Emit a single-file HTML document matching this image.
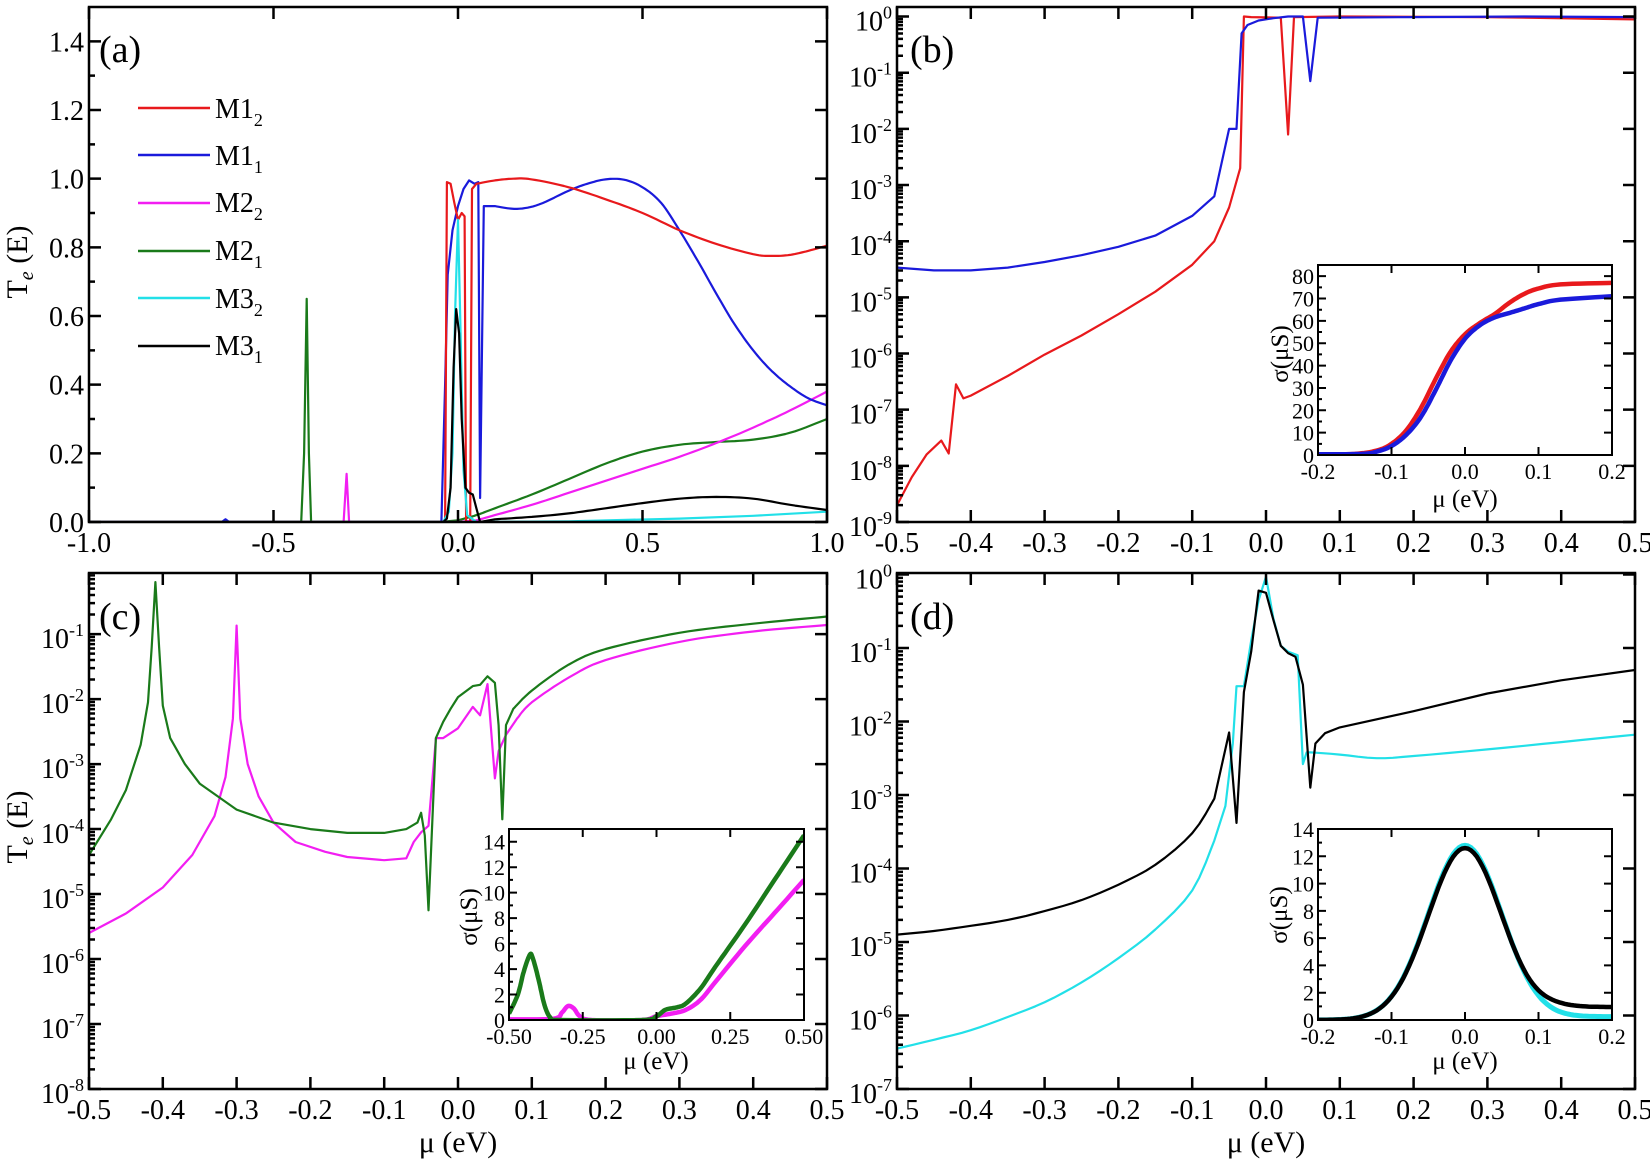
<!DOCTYPE html>
<html><head><meta charset="utf-8"><style>
html,body{margin:0;padding:0;background:#fff;}
svg{display:block;font-family:"Liberation Serif",serif;}
</style></head><body>
<svg id="s" width="1650" height="1159" viewBox="0 0 1650 1159" xmlns="http://www.w3.org/2000/svg">
<rect width="1650" height="1159" fill="#fff"/>
<g id="plots"></g>
<g font-size="28" fill="#000">
<g id="a-x" text-anchor="middle"><text>-1.0</text><text>-0.5</text><text>0.0</text><text>0.5</text><text>1.0</text></g>
<g id="a-y" text-anchor="end"><text>0.0</text><text>0.2</text><text>0.4</text><text>0.6</text><text>0.8</text><text>1.0</text><text>1.2</text><text>1.4</text></g>
<g id="b-x" text-anchor="middle"><text>-0.5</text><text>-0.4</text><text>-0.3</text><text>-0.2</text><text>-0.1</text><text>0.0</text><text>0.1</text><text>0.2</text><text>0.3</text><text>0.4</text><text>0.5</text></g>
<g id="b-y" text-anchor="end"><text>10<tspan font-size="18" dy="-12">-9</tspan></text><text>10<tspan font-size="18" dy="-12">-8</tspan></text><text>10<tspan font-size="18" dy="-12">-7</tspan></text><text>10<tspan font-size="18" dy="-12">-6</tspan></text><text>10<tspan font-size="18" dy="-12">-5</tspan></text><text>10<tspan font-size="18" dy="-12">-4</tspan></text><text>10<tspan font-size="18" dy="-12">-3</tspan></text><text>10<tspan font-size="18" dy="-12">-2</tspan></text><text>10<tspan font-size="18" dy="-12">-1</tspan></text><text>10<tspan font-size="18" dy="-12">0</tspan></text></g>
<g id="c-x" text-anchor="middle"><text>-0.5</text><text>-0.4</text><text>-0.3</text><text>-0.2</text><text>-0.1</text><text>0.0</text><text>0.1</text><text>0.2</text><text>0.3</text><text>0.4</text><text>0.5</text></g>
<g id="c-y" text-anchor="end"><text>10<tspan font-size="18" dy="-12">-8</tspan></text><text>10<tspan font-size="18" dy="-12">-7</tspan></text><text>10<tspan font-size="18" dy="-12">-6</tspan></text><text>10<tspan font-size="18" dy="-12">-5</tspan></text><text>10<tspan font-size="18" dy="-12">-4</tspan></text><text>10<tspan font-size="18" dy="-12">-3</tspan></text><text>10<tspan font-size="18" dy="-12">-2</tspan></text><text>10<tspan font-size="18" dy="-12">-1</tspan></text></g>
<g id="d-x" text-anchor="middle"><text>-0.5</text><text>-0.4</text><text>-0.3</text><text>-0.2</text><text>-0.1</text><text>0.0</text><text>0.1</text><text>0.2</text><text>0.3</text><text>0.4</text><text>0.5</text></g>
<g id="d-y" text-anchor="end"><text>10<tspan font-size="18" dy="-12">-7</tspan></text><text>10<tspan font-size="18" dy="-12">-6</tspan></text><text>10<tspan font-size="18" dy="-12">-5</tspan></text><text>10<tspan font-size="18" dy="-12">-4</tspan></text><text>10<tspan font-size="18" dy="-12">-3</tspan></text><text>10<tspan font-size="18" dy="-12">-2</tspan></text><text>10<tspan font-size="18" dy="-12">-1</tspan></text><text>10<tspan font-size="18" dy="-12">0</tspan></text></g>
</g>
<g font-size="22" fill="#000">
<g id="bi-x" text-anchor="middle"><text>-0.2</text><text>-0.1</text><text>0.0</text><text>0.1</text><text>0.2</text></g>
<g id="bi-y" text-anchor="end"><text>0</text><text>10</text><text>20</text><text>30</text><text>40</text><text>50</text><text>60</text><text>70</text><text>80</text></g>
<g id="ci-x" text-anchor="middle"><text>-0.50</text><text>-0.25</text><text>0.00</text><text>0.25</text><text>0.50</text></g>
<g id="ci-y" text-anchor="end"><text>0</text><text>2</text><text>4</text><text>6</text><text>8</text><text>10</text><text>12</text><text>14</text></g>
<g id="di-x" text-anchor="middle"><text>-0.2</text><text>-0.1</text><text>0.0</text><text>0.1</text><text>0.2</text></g>
<g id="di-y" text-anchor="end"><text>0</text><text>2</text><text>4</text><text>6</text><text>8</text><text>10</text><text>12</text><text>14</text></g>
</g>
<g font-size="38"><text x="99" y="62">(a)</text><text x="910" y="62">(b)</text><text x="99" y="629">(c)</text><text x="910" y="629">(d)</text></g>
<g font-size="28" id="legend">
<text x="215" y="118">M1<tspan font-size="18" dy="8">2</tspan></text>
<text x="215" y="165">M1<tspan font-size="18" dy="8">1</tspan></text>
<text x="215" y="212">M2<tspan font-size="18" dy="8">2</tspan></text>
<text x="215" y="260">M2<tspan font-size="18" dy="8">1</tspan></text>
<text x="215" y="308">M3<tspan font-size="18" dy="8">2</tspan></text>
<text x="215" y="355">M3<tspan font-size="18" dy="8">1</tspan></text>
</g>
<g font-size="30" text-anchor="middle">
<text transform="translate(27,262) rotate(-90)">T<tspan font-size="20" font-style="italic" dy="6">e</tspan><tspan dy="-6"> (E)</tspan></text>
<text transform="translate(27,827) rotate(-90)">T<tspan font-size="20" font-style="italic" dy="6">e</tspan><tspan dy="-6"> (E)</tspan></text>
<text x="458" y="1152">μ (eV)</text>
<text x="1266" y="1152">μ (eV)</text>
</g>
<g font-size="25" text-anchor="middle">
<text x="1465" y="507">μ (eV)</text>
<text x="656" y="1069">μ (eV)</text>
<text x="1465" y="1069">μ (eV)</text>
<text transform="translate(1288,354) rotate(-90)">σ(μS)</text>
<text transform="translate(477,917) rotate(-90)">σ(μS)</text>
<text transform="translate(1287,915) rotate(-90)">σ(μS)</text>
</g>
</svg>
<script>
const NS="http://www.w3.org/2000/svg";
const root=document.getElementById('plots');
function mk(t,a,par){const e=document.createElementNS(NS,t);for(const k in a)e.setAttribute(k,a[k]);(par||root).appendChild(e);return e;}
function range(a,b,s){const r=[];for(let v=a;v<=b+1e-9;v+=s)r.push(+v.toFixed(6));return r;}
function gauss(x,m,s){const z=(x-m)/s;return Math.exp(-z*z/2);}
function sig(x,m,w){return 1/(1+Math.exp(-(x-m)/w));}
function fn(f,a,b,n){const r=[];for(let i=0;i<=n;i++){const x=a+(b-a)*i/n;r.push([x,f(x)]);}return r;}
function cr(p,n){n=n||8;const r=[];for(let i=0;i<p.length-1;i++){const p0=p[i-1]||p[i],p1=p[i],p2=p[i+1],p3=p[i+2]||p[i+1];for(let k=0;k<n;k++){const t=k/n,t2=t*t,t3=t2*t;const f=(a,b,c,d)=>0.5*((2*b)+(-a+c)*t+(2*a-5*b+4*c-d)*t2+(-a+3*b-3*c+d)*t3);r.push([f(p0[0],p1[0],p2[0],p3[0]),f(p0[1],p1[1],p2[1],p3[1])]);}}r.push(p[p.length-1]);return r;}

const red='#e8191c',blue='#1a1adb',mag='#f21ef2',grn='#1a7a1a',cya='#22e0e8',blk='#000';

const P={
a:{x0:89,x1:827,y0:7,y1:522,xmin:-1,xmax:1,ymin:0,ymax:1.5,xt:[-1,-0.5,0,0.5,1],yt:range(0,1.4,0.2),ymn:range(0.1,1.5,0.2),tl:12},
b:{x0:897,x1:1635,y0:7,y1:522,xmin:-0.5,xmax:0.5,ymin:-9,ymax:0.17,xt:range(-0.5,0.5,0.1),yt:range(-9,0,1),log:true,tl:12},
c:{x0:89,x1:827,y0:573,y1:1089,xmin:-0.5,xmax:0.5,ymin:-8,ymax:-0.06,xt:range(-0.5,0.5,0.1),yt:range(-8,-1,1),log:true,tl:12},
d:{x0:897,x1:1635,y0:573,y1:1089,xmin:-0.5,xmax:0.5,ymin:-7,ymax:0.02,xt:range(-0.5,0.5,0.1),yt:range(-7,0,1),log:true,tl:12},
bi:{x0:1318,x1:1612,y0:265,y1:455,xmin:-0.2,xmax:0.2,ymin:0,ymax:85,xt:range(-0.2,0.2,0.1),yt:range(0,80,10),ymn:range(5,85,10),tl:8,inset:true},
ci:{x0:509,x1:804,y0:829,y1:1020,xmin:-0.5,xmax:0.5,ymin:0,ymax:15,xt:range(-0.5,0.5,0.25),yt:range(0,14,2),ymn:range(1,15,2),tl:8,inset:true},
di:{x0:1318,x1:1612,y0:829,y1:1020,xmin:-0.2,xmax:0.2,ymin:0,ymax:14,xt:range(-0.2,0.2,0.1),yt:range(0,14,2),ymn:range(1,13,2),tl:8,inset:true}
};

const S={};
S.a=[
{c:grn,p:[[-1,0],[-0.425,0],[-0.417,0.2],[-0.41,0.65],[-0.404,0.2],[-0.398,0],[-0.05,0]].concat(cr([[0,0.005],[0.05,0.02],[0.1,0.04],[0.2,0.08],[0.3,0.125],[0.4,0.17],[0.5,0.205],[0.6,0.225],[0.7,0.233],[0.8,0.24],[0.9,0.26],[1,0.3]]))},
{c:mag,p:[[-1,0],[-0.31,0],[-0.302,0.14],[-0.295,0],[0.0,0]].concat(cr([[0.05,0.005],[0.1,0.02],[0.2,0.05],[0.3,0.085],[0.4,0.12],[0.5,0.155],[0.6,0.19],[0.7,0.23],[0.8,0.275],[0.9,0.325],[1,0.38]]))},
{c:blue,p:[[-1,0],[-0.64,0],[-0.63,0.008],[-0.62,0],[-0.045,0],[-0.035,0.4],[-0.028,0.72],[-0.015,0.85],[0,0.92],[0.015,0.97],[0.03,0.995],[0.045,0.985],[0.055,0.99],[0.06,0.07],[0.07,0.92]].concat(cr([[0.1,0.92],[0.16,0.912],[0.22,0.925],[0.3,0.965],[0.35,0.985],[0.4,0.998],[0.45,0.997],[0.5,0.975],[0.55,0.93],[0.6,0.85],[0.65,0.76],[0.7,0.665],[0.75,0.575],[0.8,0.5],[0.85,0.44],[0.9,0.395],[0.95,0.36],[1,0.34]]))},
{c:red,p:[[-1,0],[-0.035,0],[-0.03,0.99],[-0.02,0.985],[-0.01,0.93],[0.0,0.88],[0.01,0.9],[0.018,0.89],[0.022,0],[0.033,0],[0.038,0.97]].concat(cr([[0.05,0.985],[0.1,0.995],[0.15,1.0],[0.2,0.998],[0.3,0.975],[0.4,0.94],[0.5,0.9],[0.6,0.85],[0.7,0.81],[0.8,0.78],[0.85,0.775],[0.9,0.778],[0.95,0.79],[1,0.805]]))},
{c:cya,p:[[-1,0],[-0.04,0],[-0.025,0.03],[-0.015,0.2],[-0.008,0.6],[0,0.88],[0.006,0.6],[0.015,0.15],[0.025,0.02],[0.05,0],[0.3,0.002],[0.6,0.01],[0.8,0.018],[1,0.03]]},
{c:blk,p:[[-1,0],[-0.04,0],[-0.03,0.01],[-0.02,0.1],[-0.012,0.45],[-0.005,0.62],[0.003,0.55],[0.01,0.3],[0.02,0.1],[0.03,0.085],[0.04,0.08],[0.05,0.04],[0.06,0]].concat(cr([[0.1,0.008],[0.2,0.015],[0.3,0.025],[0.4,0.04],[0.5,0.055],[0.6,0.068],[0.7,0.073],[0.8,0.068],[0.9,0.05],[1,0.035]]))}
];
S.b=[
{c:red,p:[[-0.5,-8.7],[-0.48,-8.2],[-0.46,-7.8],[-0.44,-7.55],[-0.43,-7.78],[-0.42,-6.55],[-0.41,-6.8],[-0.4,-6.75],[-0.35,-6.4],[-0.3,-6.02],[-0.25,-5.68],[-0.2,-5.3],[-0.15,-4.9],[-0.1,-4.42],[-0.07,-4.0],[-0.05,-3.4],[-0.035,-2.7],[-0.03,0],[-0.02,-0.01],[0.02,-0.02],[0.03,-2.1],[0.038,-0.01],[0.1,0],[0.3,-0.01],[0.5,-0.05]]},
{c:blue,p:[[-0.5,-4.47],[-0.45,-4.52],[-0.4,-4.52],[-0.35,-4.47],[-0.3,-4.37],[-0.25,-4.25],[-0.2,-4.1],[-0.15,-3.9],[-0.1,-3.55],[-0.07,-3.2],[-0.05,-2.0],[-0.04,-2.0],[-0.033,-0.3],[-0.025,-0.15],[-0.01,-0.07],[0.01,-0.03],[0.03,0],[0.05,0],[0.06,-1.15],[0.07,-0.02],[0.2,-0.01],[0.35,0],[0.5,-0.01]]}
];
S.c=[
{c:mag,p:[[-0.5,-5.6],[-0.45,-5.3],[-0.4,-4.9],[-0.36,-4.4],[-0.33,-3.8],[-0.315,-3.2],[-0.305,-2.3],[-0.3,-0.87],[-0.295,-2.3],[-0.285,-3.0],[-0.27,-3.5],[-0.25,-3.9],[-0.22,-4.2],[-0.18,-4.35],[-0.15,-4.43],[-0.1,-4.48],[-0.07,-4.45],[-0.06,-4.2],[-0.05,-4.05],[-0.04,-3.95],[-0.03,-2.6],[-0.02,-2.6],[0,-2.45],[0.02,-2.12],[0.03,-2.25],[0.04,-1.77],[0.05,-3.22],[0.055,-2.8],[0.065,-2.55]].concat(cr([[0.08,-2.3],[0.1,-2.05],[0.15,-1.67],[0.2,-1.4],[0.3,-1.12],[0.4,-0.96],[0.5,-0.86]]))},
{c:grn,p:[[-0.5,-4.4],[-0.47,-3.85],[-0.45,-3.4],[-0.43,-2.7],[-0.42,-2.05],[-0.415,-1.2],[-0.41,-0.2],[-0.405,-1.2],[-0.4,-2.1],[-0.39,-2.6],[-0.37,-3.0],[-0.35,-3.3],[-0.3,-3.7],[-0.25,-3.9],[-0.2,-4.0],[-0.15,-4.06],[-0.1,-4.06],[-0.07,-4.0],[-0.055,-3.9],[-0.05,-3.75],[-0.045,-4.1],[-0.04,-5.25],[-0.03,-2.6],[-0.02,-2.35],[-0.01,-2.15],[0,-1.97],[0.02,-1.8],[0.03,-1.78],[0.04,-1.65],[0.05,-1.75],[0.055,-2.4],[0.06,-3.85],[0.065,-2.4]].concat(cr([[0.075,-2.15],[0.1,-1.87],[0.15,-1.47],[0.2,-1.23],[0.3,-0.98],[0.4,-0.84],[0.5,-0.73]]))}
];
S.d=[
{c:cya,p:cr([[-0.5,-6.45],[-0.45,-6.33],[-0.4,-6.2],[-0.35,-6.02],[-0.3,-5.82],[-0.25,-5.55],[-0.2,-5.22],[-0.15,-4.83],[-0.1,-4.3],[-0.07,-3.62]],4).concat([[-0.055,-3.15],[-0.045,-2.3],[-0.04,-1.52],[-0.03,-1.52],[-0.02,-0.9],[-0.01,-0.35],[0,-0.03],[0.01,-0.6],[0.02,-0.97],[0.03,-1.05],[0.043,-1.1],[0.05,-2.58],[0.055,-2.42]]).concat(cr([[0.06,-2.42],[0.1,-2.45],[0.15,-2.5],[0.2,-2.47],[0.3,-2.38],[0.4,-2.28],[0.5,-2.18]],4))},
{c:blk,p:cr([[-0.5,-4.9],[-0.45,-4.85],[-0.4,-4.78],[-0.35,-4.7],[-0.3,-4.58],[-0.25,-4.43],[-0.2,-4.22],[-0.15,-3.95],[-0.1,-3.52],[-0.07,-3.05]],4).concat([[-0.05,-2.15],[-0.04,-3.38],[-0.03,-1.6],[-0.02,-1.05],[-0.01,-0.22],[0,-0.25],[0.01,-0.62],[0.02,-0.97],[0.03,-1.07],[0.04,-1.12],[0.05,-1.5],[0.06,-2.9],[0.067,-2.3],[0.08,-2.16],[0.1,-2.08],[0.2,-1.86],[0.3,-1.62],[0.4,-1.44],[0.5,-1.3]])}
];
S.bi=[
{c:red,w:4.5,p:cr([[-0.2,0.2],[-0.15,0.5],[-0.12,2],[-0.1,5],[-0.08,11],[-0.06,21],[-0.04,34],[-0.02,46],[0,54],[0.02,59],[0.04,63],[0.06,68],[0.08,72],[0.1,74.5],[0.13,76.3],[0.2,77]])},
{c:blue,w:4.5,p:cr([[-0.2,0.3],[-0.14,0.5],[-0.12,1.5],[-0.1,4],[-0.08,9],[-0.06,17],[-0.04,29],[-0.02,42],[0,52],[0.02,58],[0.04,61.5],[0.06,63.5],[0.08,65.5],[0.1,67.5],[0.13,69.5],[0.2,71]])}
];
S.ci=[
{c:mag,w:4.5,p:cr([[-0.5,0.05],[-0.35,0.1],[-0.32,0.6],[-0.3,1.1],[-0.28,0.9],[-0.26,0.3],[-0.22,0],[-0.05,0],[0,0.3],[0.05,0.5],[0.1,0.8],[0.15,1.6],[0.2,3],[0.3,5.8],[0.4,8.4],[0.5,11]])},
{c:grn,w:4.5,p:cr([[-0.5,0.5],[-0.47,2],[-0.45,3.8],[-0.43,5.1],[-0.42,4.9],[-0.4,3.2],[-0.38,1.2],[-0.36,0.2],[-0.33,0],[-0.05,0],[0,0.3],[0.03,0.8],[0.07,1.0],[0.1,1.3],[0.15,2.5],[0.2,4.2],[0.3,7.5],[0.4,11],[0.5,14.5]])}
];
S.di=[
{c:cya,w:5,p:fn(x=>12.8*gauss(x,0,0.05)+0.25*sig(x,0.12,0.02),-0.2,0.2,100)},
{c:blk,w:4.5,p:fn(x=>12.6*gauss(x,0,0.05)+0.95*sig(x,0.1,0.015),-0.2,0.2,100)}
];

for(const id in P){
 try{
 const p=P[id];
 const X=v=>p.x0+(v-p.xmin)/(p.xmax-p.xmin)*(p.x1-p.x0);
 const Y=v=>p.y1-(v-p.ymin)/(p.ymax-p.ymin)*(p.y1-p.y0);
 const g=mk('g',{});
 if(p.inset) mk('rect',{x:p.x0,y:p.y0,width:p.x1-p.x0,height:p.y1-p.y0,fill:'#fff'},g);
 const clip='cl'+id;
 const cp=mk('clipPath',{id:clip},g);mk('rect',{x:p.x0,y:p.y0,width:p.x1-p.x0,height:p.y1-p.y0},cp);
 const cg=mk('g',{'clip-path':'url(#'+clip+')'},g);
 (S[id]||[]).forEach(s=>{
   mk('polyline',{points:s.p.map(([x,y])=>X(x).toFixed(1)+','+Y(Math.max(p.ymin-1,y)).toFixed(1)).join(' '),fill:'none',stroke:s.c,'stroke-width':s.w||2.2,'stroke-linejoin':'round'},cg);
 });
 const sw=p.inset?2:2.5, tl=p.tl;
 let d='';
 p.xt.forEach(v=>{const x=X(v);d+='M'+x+','+p.y1+'v'+(-tl)+'M'+x+','+p.y0+'v'+tl;});
 p.yt.forEach(v=>{const y=Y(v);d+='M'+p.x0+','+y+'h'+tl+'M'+p.x1+','+y+'h'+(-tl);});
 if(p.log){for(let k=Math.floor(p.ymin);k<p.ymax;k++)for(let m=2;m<10;m++){const lv=k+Math.log10(m);if(lv<p.ymax&&lv>p.ymin)d+='M'+p.x0+','+Y(lv)+'h'+(tl/2);}}
 if(p.ymn)p.ymn.forEach(v=>{if(v<p.ymax)d+='M'+p.x0+','+Y(v)+'h'+(tl/2);});
 mk('path',{d:d,stroke:'#000','stroke-width':sw,fill:'none'},g);
 mk('rect',{x:p.x0,y:p.y0,width:p.x1-p.x0,height:p.y1-p.y0,fill:'none',stroke:'#000','stroke-width':sw},g);
 const xs=document.getElementById(id+'-x').children;
 p.xt.forEach((v,i)=>{if(xs[i]){xs[i].setAttribute('x',X(v));xs[i].setAttribute('y',p.y1+(p.inset?24:30));}});
 const ys=document.getElementById(id+'-y').children;
 p.yt.forEach((v,i)=>{if(ys[i]){ys[i].setAttribute('x',p.x0-(p.inset?4:5));ys[i].setAttribute('y',Y(v)+(p.inset?8:(p.log?14:10)));}});
 }catch(e){}
}
[[red,108],[blue,155],[mag,203],[grn,251],[cya,298],[blk,346]].forEach(([c,y])=>mk('line',{x1:138,x2:210,y1:y,y2:y,stroke:c,'stroke-width':2.5}));
</script>
</body></html>
